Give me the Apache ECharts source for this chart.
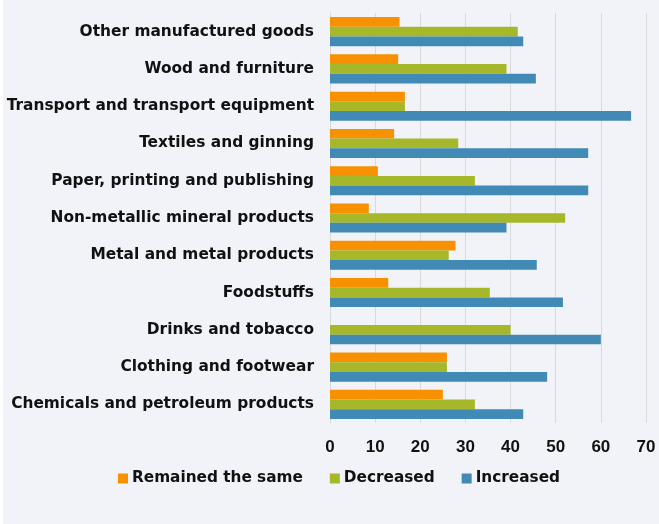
<!DOCTYPE html>
<html>
<head>
<meta charset="utf-8">
<script src="https://cdn.jsdelivr.net/npm/echarts@6/dist/echarts.min.js"></script>
<style>
  html, body { margin: 0; padding: 0; background: #ffffff; }
  #chart { position: absolute; left: 3px; top: 0; width: 656px; height: 524px; background: #f2f3f8; }
</style>
</head>
<body>
<div id="chart"></div>
<script>
// Industry categories, listed from the bottom of the chart to the top
const categories = [
  'Chemicals and petroleum products',
  'Clothing and footwear',
  'Drinks and tobacco',
  'Foodstuffs',
  'Metal and metal products',
  'Non-metallic mineral products',
  'Paper, printing and publishing',
  'Textiles and ginning',
  'Transport and transport equipment',
  'Wood and furniture',
  'Other manufactured goods'
];

// Share of respondents (%) per answer
const remainedSame = [25.0, 25.9, 0, 12.9, 27.8, 8.6, 10.6, 14.2, 16.6, 15.1, 15.4];
const decreased    = [32.1, 25.9, 40.0, 35.4, 26.3, 52.1, 32.1, 28.4, 16.6, 39.1, 41.6];
const increased    = [42.8, 48.1, 60.0, 51.6, 45.8, 39.1, 57.2, 57.2, 66.7, 45.6, 42.8];

const xTicks = [0, 10, 20, 30, 40, 50, 60, 70];

const seriesNames = ['Remained the same', 'Decreased', 'Increased'];
const seriesColors = ['#f79100', '#a6b729', '#418ab5'];
const seriesData = [remainedSame, decreased, increased];

const FONT = '"DejaVu Sans", sans-serif';
const NUM_FONT = '"Liberation Sans", Arial, sans-serif';

const chart = echarts.init(document.getElementById('chart'), null, { renderer: 'canvas' });

chart.setOption({
  backgroundColor: '#f2f3f8',
  animation: false,
  textStyle: { fontFamily: FONT },
  grid: { left: 327, right: 13, top: 13, bottom: 101, containLabel: false },
  legend: {
    data: seriesNames,
    left: 110,
    top: 466,
    itemWidth: 10,
    itemHeight: 10,
    itemGap: 27,
    icon: 'rect',
    textStyle: { fontFamily: FONT, fontWeight: 'bold', fontSize: 15.3, color: '#111', padding: [0, 0, 0, -1] }
  },
  xAxis: {
    type: 'value',
    min: xTicks[0],
    max: xTicks[xTicks.length - 1],
    interval: 10,
    axisLine: { show: false },
    axisTick: { show: false },
    splitLine: { show: true, lineStyle: { color: '#d9d9dc', width: 1 } },
    axisLabel: { margin: 16, fontFamily: NUM_FONT, fontWeight: 'bold', fontSize: 17, color: '#111' }
  },
  yAxis: {
    type: 'category',
    data: categories,
    axisLine: { show: true, lineStyle: { color: '#d9d9dc' } },
    axisTick: { show: false },
    axisLabel: { margin: 16, fontFamily: FONT, fontWeight: 'bold', fontSize: 15.4, color: '#111' }
  },
  series: seriesNames.map((name, i) => ({
    name: name,
    type: 'bar',
    data: seriesData[i],
    barGap: '0%',
    barCategoryGap: '22%',
    itemStyle: { color: seriesColors[i] }
  }))
});
</script>
</body>
</html>
